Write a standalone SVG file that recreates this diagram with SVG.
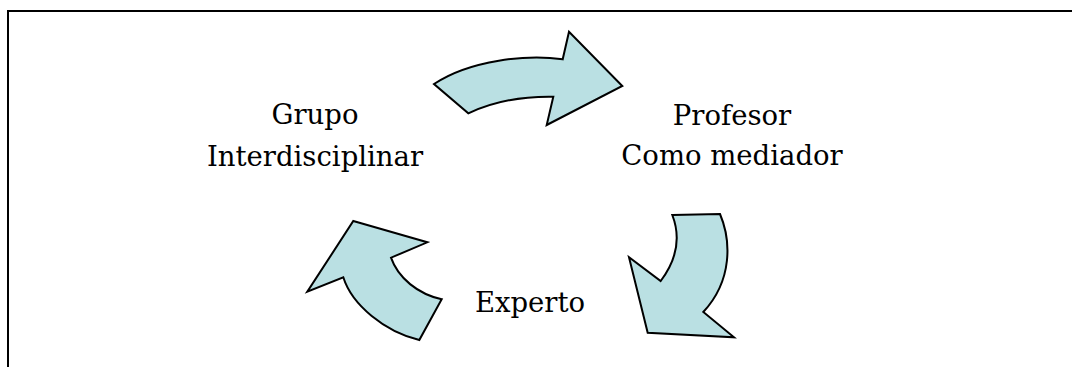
<svg xmlns="http://www.w3.org/2000/svg" width="1072" height="367" viewBox="0 0 1072 367">
<style>
.arrow{fill:#BAE0E3;stroke:#000;stroke-width:2;stroke-linejoin:miter}
.lbl{font-family:"DejaVu Serif","Liberation Serif",serif;font-size:27.5px;fill:#000;text-anchor:middle}
.frame{fill:none;stroke:#000;stroke-width:2}
</style>
<rect width="1072" height="367" fill="#fff"/>
<path class="frame" d="M8,368 L8,11 L1073,11"/>
<g id="connectors">
<path id="arrow-top" class="arrow" d="M562.7,59.3 C528,54 470,60 434,84 L468.3,113.3 C488,104 515,96 553.3,96.7 L546.7,125 L622.3,86 L569,31.7 Z"/>
<path id="arrow-right" class="arrow" d="M672.3,215 L720,214 C731,240 733,280 703.3,312 L734,337.3 L647.7,332.7 L629,257.3 L660.7,281 C678,258 680,235 672.3,215 Z"/>
<path id="arrow-left" class="arrow" d="M353.3,221 L427.3,242.3 L391,257.7 C398,278 418,294 441.7,299.3 L419.3,340 C385,332 352,305 343.3,277.3 L307.3,291.7 Z"/>
</g>
<g id="node-grupo">
<text class="lbl" x="315" y="124">Grupo</text>
<text class="lbl" x="315" y="166">Interdisciplinar</text>
</g>
<g id="node-profesor">
<text class="lbl" x="732" y="125">Profesor</text>
<text class="lbl" x="732" y="165">Como mediador</text>
</g>
<g id="node-experto">
<text class="lbl" x="530" y="312">Experto</text>
</g>
</svg>
